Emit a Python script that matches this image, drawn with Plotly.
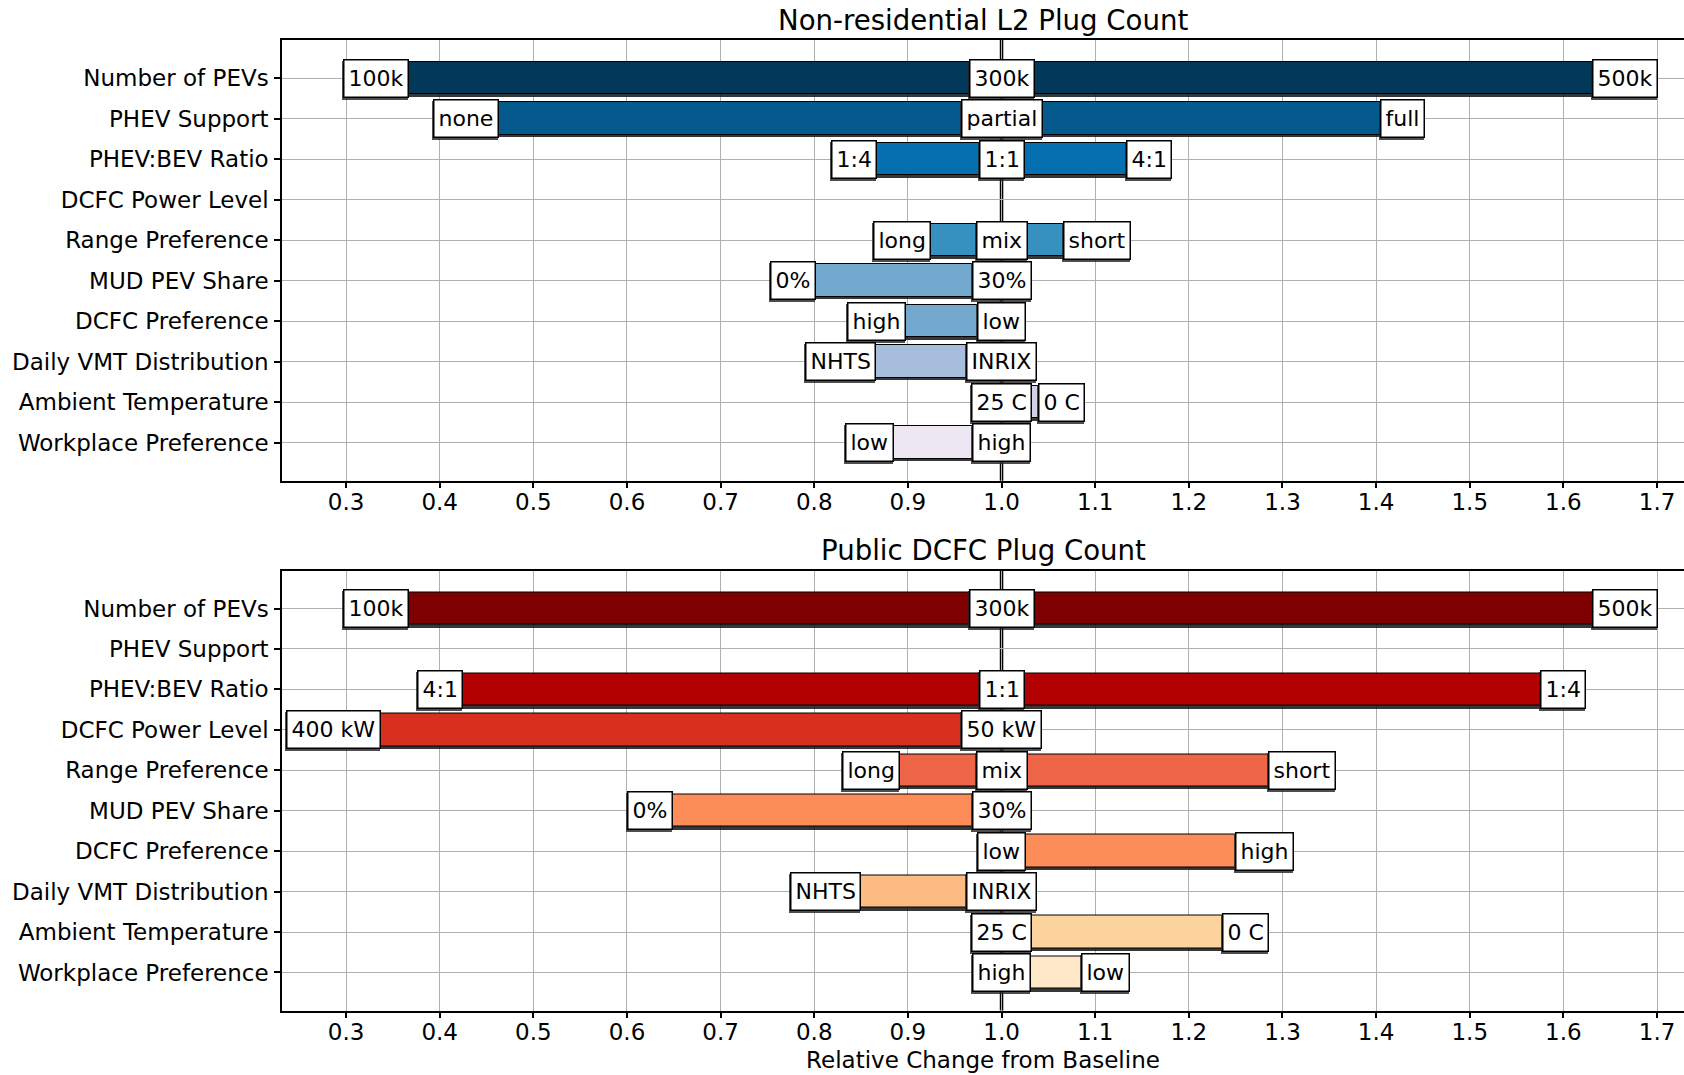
import plotly.graph_objects as go

# Sensitivity factors, listed top to bottom
categories = [
    "Number of PEVs", "PHEV Support", "PHEV:BEV Ratio", "DCFC Power Level",
    "Range Preference", "MUD PEV Share", "DCFC Preference",
    "Daily VMT Distribution", "Ambient Temperature", "Workplace Preference",
]

x_tick_values = [0.3, 0.4, 0.5, 0.6, 0.7, 0.8, 0.9, 1.0, 1.1, 1.2, 1.3, 1.4, 1.5, 1.6, 1.7]
x_tick_labels = ["0.3", "0.4", "0.5", "0.6", "0.7", "0.8", "0.9", "1.0",
                 "1.1", "1.2", "1.3", "1.4", "1.5", "1.6", "1.7"]
baseline = 1.0

# Non-residential L2 plug count (relative to baseline)
l2_low = [0.332, 0.428, 0.842, None, 0.894, 0.777, 0.866, 0.828, 1.0, 0.859]
l2_high = [1.666, 1.428, 1.158, None, 1.102, 1.0, 1.0, 1.0, 1.064, 1.0]
l2_low_labels = ["100k", "none", "1:4", None, "long", "0%", "high", "NHTS", None, "low"]
l2_high_labels = ["500k", "full", "4:1", None, "short", None, None, None, "0 C", None]
l2_base_labels = ["300k", "partial", "1:1", None, "mix", "30%", "low", "INRIX", "25 C", "high"]
l2_colors = ["#023858", "#045a8d", "#0570b0", "#0570b0", "#3690c0",
             "#74a9cf", "#74a9cf", "#a6bddb", "#d0d1e6", "#ece7f2"]

# Public DCFC plug count (relative to baseline)
dcfc_low = [0.332, None, 0.400, 0.287, 0.861, 0.625, 1.0, 0.812, 1.0, 1.0]
dcfc_high = [1.666, None, 1.600, 1.0, 1.321, 1.0, 1.281, 1.0, 1.261, 1.111]
dcfc_low_labels = ["100k", None, "4:1", "400 kW", "long", "0%", None, "NHTS", None, None]
dcfc_high_labels = ["500k", None, "1:4", None, "short", None, "high", None, "0 C", "low"]
dcfc_base_labels = ["300k", None, "1:1", "50 kW", "mix", "30%", "low", "INRIX", "25 C", "high"]
dcfc_colors = ["#7f0000", "#990000", "#b30000", "#d7301f", "#ef6548",
               "#fc8d59", "#fc8d59", "#fdbb84", "#fdd49e", "#fee8c8"]

FONT = "DejaVu Sans"
X_RANGE = [0.2316, 1.7288]
Y_RANGE = [9.94, -0.94]
GRID = "#b0b0b0"

fig = go.Figure()
annotations = []
shapes = []


def add_panel(low, high, lows_lbl, highs_lbl, base_lbl, colors, xref, yref):
    rows = [i for i in range(len(categories)) if low[i] is not None]
    ys = rows
    bases = [low[i] for i in rows]
    widths = [high[i] - low[i] for i in rows]
    cols = [colors[i] for i in rows]
    # soft drop shadow under each bar
    fig.add_trace(go.Bar(
        orientation="h", y=[y + 0.06 for y in ys], x=widths, base=bases,
        width=0.8, marker=dict(color="rgba(20,20,20,0.85)", line=dict(width=0)),
        xaxis=xref, yaxis=yref, hoverinfo="skip", showlegend=False,
    ))
    fig.add_trace(go.Bar(
        orientation="h", y=ys, x=widths, base=bases, width=0.8,
        marker=dict(color=cols, line=dict(color="black", width=1)),
        xaxis=xref, yaxis=yref, showlegend=False,
    ))

    def label(xv, yv, txt):
        common = dict(x=xv, y=yv, xref=xref, yref=yref, text=txt, showarrow=False,
                      borderpad=4, borderwidth=1.5, height=28,
                      xanchor="center", yanchor="middle")
        annotations.append(dict(common, font=dict(family=FONT, size=22, color="#222222"),
                                bgcolor="#222222", bordercolor="#222222",
                                xshift=-1, yshift=-2, opacity=0.8))
        annotations.append(dict(common, font=dict(family=FONT, size=22, color="black"),
                                bgcolor="white", bordercolor="black"))

    for i in rows:
        if base_lbl[i] is not None:
            label(baseline, i, base_lbl[i])
        if lows_lbl[i] is not None:
            label(low[i], i, lows_lbl[i])
        if highs_lbl[i] is not None:
            label(high[i], i, highs_lbl[i])

    # baseline reference line
    shapes.append(dict(type="line", xref=xref, yref=f"{yref} domain", x0=baseline, x1=baseline,
                       y0=0, y1=1, line=dict(color="black", width=3.5), layer="below"))


add_panel(l2_low, l2_high, l2_low_labels, l2_high_labels, l2_base_labels, l2_colors, "x", "y")
add_panel(dcfc_low, dcfc_high, dcfc_low_labels, dcfc_high_labels, dcfc_base_labels,
          dcfc_colors, "x2", "y2")

# panel titles
annotations.append(dict(text="Non-residential L2 Plug Count", x=0.5, y=1 - 20.5 / 1075,
                        xref="paper", yref="paper", showarrow=False, xanchor="center",
                        yanchor="middle", font=dict(family=FONT, size=27.6, color="black")))
annotations.append(dict(text="Public DCFC Plug Count", x=0.5, y=1 - 550 / 1075,
                        xref="paper", yref="paper", showarrow=False, xanchor="center",
                        yanchor="middle", font=dict(family=FONT, size=27.6, color="black")))

xaxis_style = dict(
    range=X_RANGE, tickvals=x_tick_values, ticktext=x_tick_labels,
    showgrid=True, gridcolor=GRID, gridwidth=1, zeroline=False,
    showline=True, linecolor="black", linewidth=1.5, mirror=True,
    ticks="outside", ticklen=6, tickwidth=1.5, tickcolor="black",
    tickfont=dict(family=FONT, size=23, color="black"), ticklabelstandoff=-6,
)
yaxis_style = dict(
    range=Y_RANGE, tickvals=list(range(len(categories))), ticktext=categories,
    showgrid=True, gridcolor=GRID, gridwidth=1, zeroline=False,
    showline=True, linecolor="black", linewidth=1.5,
    ticks="outside", ticklen=6, tickwidth=1.5, tickcolor="black",
    tickfont=dict(family=FONT, size=23, color="black"), ticklabelstandoff=1,
)

fig.update_layout(
    width=1684, height=1075, autosize=False,
    margin=dict(l=282, r=0, t=0, b=0),
    paper_bgcolor="white", plot_bgcolor="white",
    barmode="overlay", bargap=0,
    xaxis=dict(xaxis_style, domain=[0, 1], anchor="y"),
    yaxis=dict(yaxis_style, domain=[1 - 480.7 / 1075, 1 - 40 / 1075], anchor="x"),
    xaxis2=dict(xaxis_style, domain=[0, 1], anchor="y2",
                title=dict(text="Relative Change from Baseline", standoff=8,
                           font=dict(family=FONT, size=23, color="black"))),
    yaxis2=dict(yaxis_style, domain=[1 - 1010.5 / 1075, 1 - 570.5 / 1075], anchor="x2"),
    annotations=annotations, shapes=shapes,
    font=dict(family=FONT, color="black"),
)

fig.write_html("out.html")
